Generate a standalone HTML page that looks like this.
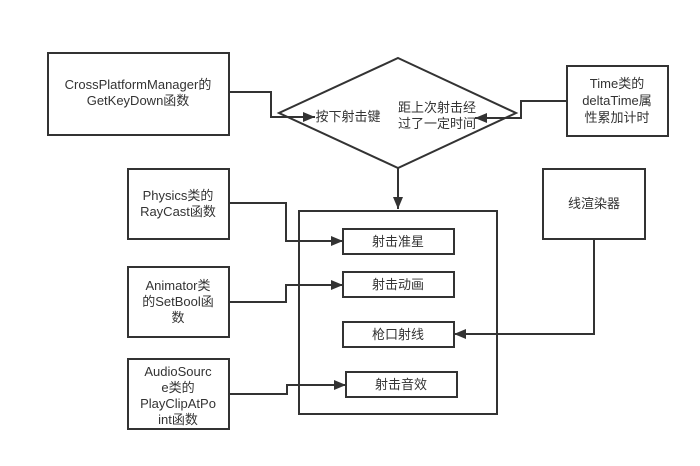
<!DOCTYPE html>
<html><head><meta charset="utf-8"><style>
html,body{margin:0;padding:0;background:#fff;}
svg text{font-family:"Liberation Sans","Noto Sans CJK SC",sans-serif;font-size:13px;fill:#333;}
</style></head><body>
<svg width="700" height="461" viewBox="0 0 700 461" xmlns="http://www.w3.org/2000/svg">
<defs><marker id="a" markerWidth="12" markerHeight="10" refX="12" refY="5" orient="auto" markerUnits="userSpaceOnUse"><path d="M0,0L12,5L0,10Z" fill="#333"/></marker></defs>
<g fill="none" stroke="#333" stroke-width="2">
<rect x="48" y="53" width="181" height="82"/>
<polygon points="398,58 516,113 398,168 279,113"/>
<rect x="567" y="66" width="101" height="70"/>
<rect x="128" y="169" width="101" height="70"/>
<rect x="128" y="267" width="101" height="70"/>
<rect x="128" y="359" width="101" height="70"/>
<rect x="543" y="169" width="102" height="70"/>
<rect x="299" y="211" width="198" height="203"/>
<rect x="343" y="229" width="111" height="25"/>
<rect x="343" y="272" width="111" height="25"/>
<rect x="343" y="322" width="111" height="25"/>
<rect x="346" y="372" width="111" height="25"/>
<polyline points="229,92 271,92 271,117 315,117" marker-end="url(#a)"/>
<polyline points="567,101 521,101 521,118 475,118" marker-end="url(#a)"/>
<polyline points="398,168 398,209" marker-end="url(#a)"/>
<polyline points="229,203 286,203 286,241 343,241" marker-end="url(#a)"/>
<polyline points="229,302 286,302 286,285 343,285" marker-end="url(#a)"/>
<polyline points="229,394 287,394 287,385 346,385" marker-end="url(#a)"/>
<polyline points="594,239 594,334 454,334" marker-end="url(#a)"/>
</g>
<g text-anchor="middle">
<text x="138" y="89">CrossPlatformManager的</text>
<text x="138" y="105">GetKeyDown函数</text>
<text x="348" y="121">按下射击键</text>
<text x="437" y="112">距上次射击经</text>
<text x="437" y="128">过了一定时间</text>
<text x="617" y="88">Time类的</text>
<text x="617" y="105">deltaTime属</text>
<text x="617" y="122">性累加计时</text>
<text x="178" y="200">Physics类的</text>
<text x="178" y="216">RayCast函数</text>
<text x="178" y="290">Animator类</text>
<text x="178" y="306">的SetBool函</text>
<text x="178" y="322">数</text>
<text x="178" y="376">AudioSourc</text>
<text x="178" y="392">e类的</text>
<text x="178" y="408">PlayClipAtPo</text>
<text x="178" y="424">int函数</text>
<text x="594" y="208">线渲染器</text>
<text x="398" y="246">射击准星</text>
<text x="398" y="289">射击动画</text>
<text x="398" y="339">枪口射线</text>
<text x="401" y="389">射击音效</text>
</g>
</svg>
</body></html>
